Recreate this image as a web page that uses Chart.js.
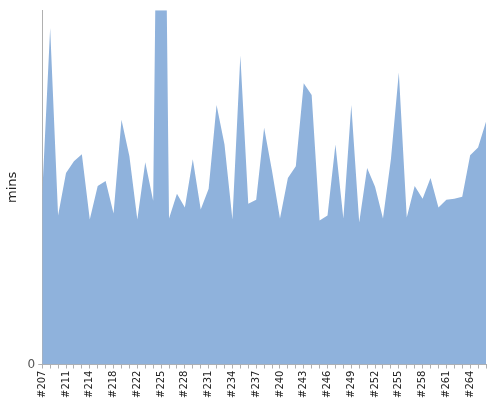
<!DOCTYPE html>
<html>
<head>
<meta charset="utf-8">
<script src="https://cdn.jsdelivr.net/npm/chart.js@4"></script>
<style>
body{margin:0;background:#fff}
#wrap{width:500px;height:400px}
</style>
</head>
<body>
<div id="wrap"><canvas id="c"></canvas></div>
<script>
// build numbers (every 3rd one gets a label)
const builds = ["#207","#209","#210","#211","#212","#213","#214","#216","#217","#218",
  "#220","#221","#222","#223","#224","#225","#226","#227","#228","#229",
  "#230","#231","#232","#233","#234","#235","#236","#237","#238","#239",
  "#240","#241","#242","#243","#244","#245","#246","#247","#248","#249",
  "#250","#251","#252","#253","#254","#255","#256","#257","#258","#259",
  "#260","#261","#262","#263","#264","#265","#266"]

// build durations in minutes
const mins = [17.3,34.1,15.1,19.4,20.6,21.3,14.7,18.1,18.6,15.3,
  24.8,21.1,14.7,20.5,16.6,90,14.8,17.3,15.9,20.8,
  15.7,17.8,26.3,22.3,14.7,31.3,16.3,16.7,24.0,19.6,
  14.8,18.9,20.1,28.5,27.3,14.6,15.1,22.3,14.8,26.3,
  14.4,19.9,18.0,14.8,20.8,29.6,14.9,18.1,16.8,18.9,
  15.9,16.7,16.8,17.0,21.2,22.0,24.6]

const y_max = 35.9
const fill_col = "#8fb2dc"
const axis_col = "#b0b0b0"

Chart.defaults.font.family = "DejaVu Sans"
Chart.defaults.font.size = 10
Chart.defaults.color = "#444"

new Chart(document.getElementById("c").getContext("2d"), {
  type: "line",
  data: {
    labels: builds,
    datasets: [{
      data: mins,
      fill: "origin",
      backgroundColor: fill_col,
      borderWidth: 0,
      pointRadius: 0,
      tension: 0
    }]
  },
  options: {
    responsive: true,
    maintainAspectRatio: false,
    animation: false,
    layout: {padding: {top: -2, right: 3, left: 1}},
    plugins: {legend: {display: false}, tooltip: {enabled: false}},
    scales: {
      x: {
        grid: {display: true, drawOnChartArea: false, color: axis_col, tickLength: 4},
        border: {color: axis_col},
        ticks: {
          autoSkip: false, maxRotation: 90, minRotation: 90, padding: 2,
          color: "#222",
          callback: function(v, i){ return i % 3 === 0 ? builds[i] : "" }
        }
      },
      y: {
        min: 0, max: y_max,
        afterBuildTicks: function(ax){ ax.ticks = [{value: 0}] },
        grid: {display: true, drawOnChartArea: false, color: axis_col, tickLength: 4},
        border: {color: axis_col},
        ticks: {color: "#555", font: {size: 12}},
        title: {display: true, text: "mins", color: "#222", font: {size: 13}}
      }
    }
  }
})
</script>
</body>
</html>
